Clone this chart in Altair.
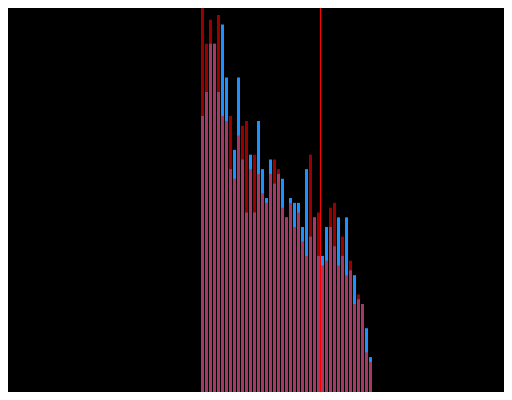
import altair as alt
import pandas as pd

# histogram bins (index of each bin) and counts of the two series
bin_start = list(range(43))
red_counts = [83, 74, 79, 74, 80, 59, 58, 59, 46, 55,
              57, 58, 48, 51, 47, 43, 41, 47, 50, 48,
              40, 38, 41, 36, 39, 33, 30, 51, 38, 39,
              28, 29, 40, 41, 28, 34, 26, 29, 20, 22,
              20, 10, 8]
blue_counts = [59, 64, 74, 74, 64, 78, 67, 48, 52, 67,
               50, 39, 51, 39, 58, 48, 42, 50, 45, 47,
               46, 38, 42, 41, 41, 36, 48, 34, 38, 30,
               30, 36, 36, 32, 38, 30, 38, 27, 26, 21,
               20, 15, 9]
marker_value = [30.125]

df = pd.DataFrame({
    "start": bin_start,
    "end": [b + 1 for b in bin_start],
    "red": red_counts,
    "blue": blue_counts,
})
line_df = pd.DataFrame({"v": marker_value})

xscale = alt.Scale(domain=[-48, 76], nice=False, zero=False)
yscale = alt.Scale(domain=[1.763, 81.43], nice=False, zero=False)

base = alt.Chart(df)
blue = base.mark_bar(color="#1E90FF", binSpacing=1, clip=True).encode(
    x=alt.X("start:Q", bin="binned", scale=xscale, axis=None),
    x2="end:Q",
    y=alt.Y("blue:Q", scale=yscale, axis=None),
)
red = base.mark_bar(color="#FF0000", opacity=0.6, binSpacing=1, clip=True).encode(
    x=alt.X("start:Q", bin="binned", scale=xscale, axis=None),
    x2="end:Q",
    y=alt.Y("red:Q", scale=yscale, axis=None),
)
rule = alt.Chart(line_df).mark_rule(color="#FF0000", strokeWidth=1).encode(
    x=alt.X("v:Q", scale=xscale, axis=None),
)

chart = alt.layer(blue, red, rule).properties(
    width=496, height=384, padding=0,
    autosize=alt.AutoSizeParams(type="none"),
    background="black",
).configure_view(stroke=None)

chart.save("out.html", embed_options={"renderer": "svg", "actions": False})
